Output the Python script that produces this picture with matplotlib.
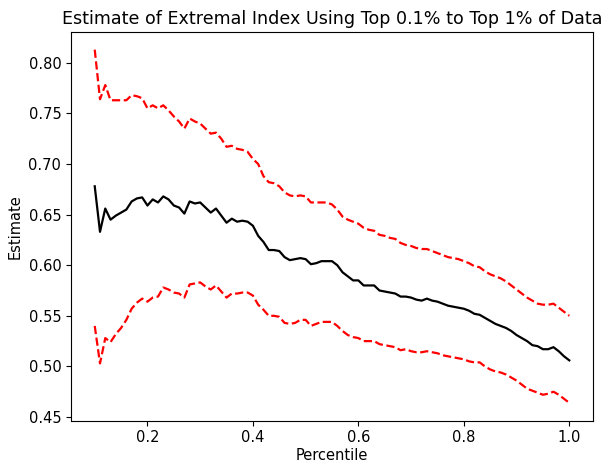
import numpy as np
import matplotlib
matplotlib.use("Agg")
import matplotlib.pyplot as plt

percentile = np.round(np.arange(0.10, 1.0001, 0.01), 2)

estimate = [
    0.678, 0.633, 0.656, 0.645, 0.649, 0.652, 0.655, 0.663, 0.666, 0.667,
    0.659, 0.665, 0.662, 0.668, 0.665, 0.659, 0.657, 0.651, 0.663, 0.661,
    0.662, 0.657, 0.652, 0.656, 0.649, 0.642, 0.646, 0.643, 0.644, 0.643,
    0.639, 0.629, 0.623, 0.615, 0.615, 0.614, 0.608, 0.605, 0.606, 0.607,
    0.606, 0.601, 0.602, 0.604, 0.604, 0.604, 0.600, 0.593, 0.589, 0.585,
    0.585, 0.580, 0.580, 0.580, 0.575, 0.574, 0.573, 0.572, 0.569, 0.569,
    0.568, 0.566, 0.565, 0.567, 0.565, 0.564, 0.562, 0.560, 0.559, 0.558,
    0.557, 0.555, 0.552, 0.551, 0.548, 0.545, 0.542, 0.540, 0.538, 0.535,
    0.531, 0.528, 0.525, 0.521, 0.520, 0.517, 0.517, 0.519, 0.515, 0.510,
    0.506,
]

upper = [
    0.813, 0.764, 0.778, 0.763, 0.763, 0.763, 0.763, 0.768, 0.767, 0.765,
    0.755, 0.758, 0.755, 0.758, 0.753, 0.747, 0.742, 0.735, 0.745, 0.742,
    0.740, 0.735, 0.730, 0.731, 0.725, 0.717, 0.718, 0.715, 0.714, 0.712,
    0.705, 0.700, 0.688, 0.682, 0.681, 0.678, 0.672, 0.669, 0.668, 0.669,
    0.668, 0.662, 0.662, 0.662, 0.662, 0.660, 0.655, 0.648, 0.645, 0.643,
    0.641, 0.637, 0.635, 0.634, 0.630, 0.629, 0.627, 0.626, 0.622, 0.620,
    0.619, 0.617, 0.616, 0.616, 0.614, 0.612, 0.610, 0.608, 0.607, 0.606,
    0.604, 0.602, 0.599, 0.598, 0.594, 0.591, 0.589, 0.587, 0.584, 0.580,
    0.576, 0.572, 0.568, 0.565, 0.562, 0.561, 0.561, 0.562, 0.558, 0.554,
    0.550,
]

lower = [
    0.540, 0.503, 0.528, 0.524, 0.532, 0.538, 0.546, 0.557, 0.563, 0.567,
    0.564, 0.568, 0.569, 0.578, 0.576, 0.573, 0.572, 0.568, 0.581, 0.582,
    0.583, 0.579, 0.576, 0.580, 0.574, 0.568, 0.572, 0.572, 0.573, 0.573,
    0.570, 0.561, 0.556, 0.550, 0.550, 0.549, 0.543, 0.542, 0.543, 0.546,
    0.546, 0.540, 0.542, 0.544, 0.544, 0.544, 0.540, 0.535, 0.531, 0.529,
    0.528, 0.525, 0.525, 0.525, 0.522, 0.521, 0.520, 0.519, 0.516, 0.517,
    0.515, 0.514, 0.514, 0.515, 0.514, 0.513, 0.511, 0.510, 0.509, 0.508,
    0.507, 0.505, 0.504, 0.504, 0.500, 0.497, 0.495, 0.494, 0.492, 0.489,
    0.486, 0.482, 0.478, 0.476, 0.474, 0.472, 0.473, 0.475, 0.472, 0.468,
    0.464,
]

fig = plt.figure(figsize=(6.06, 4.63), dpi=100)
ax = fig.add_axes([71 / 606, (463 - 420.5) / 463, 522 / 606, 388.5 / 463])

lw = 1.6
ax.plot(percentile, estimate, color="black", linewidth=lw)
ax.plot(percentile, upper, color="red", linestyle="--", linewidth=lw)
ax.plot(percentile, lower, color="red", linestyle="--", linewidth=lw)

ax.set_title("Estimate of Extremal Index Using Top 0.1% to Top 1% of Data", fontsize=12.6)
ax.set_xlabel("Percentile", fontsize=10.5, labelpad=2)
ax.set_ylabel("Estimate", fontsize=10.5)
ax.tick_params(labelsize=10.5)
ax.set_xticks([0.2, 0.4, 0.6, 0.8, 1.0])
ax.set_yticks([0.45, 0.50, 0.55, 0.60, 0.65, 0.70, 0.75, 0.80])

fig.savefig("out.png", dpi=100)
